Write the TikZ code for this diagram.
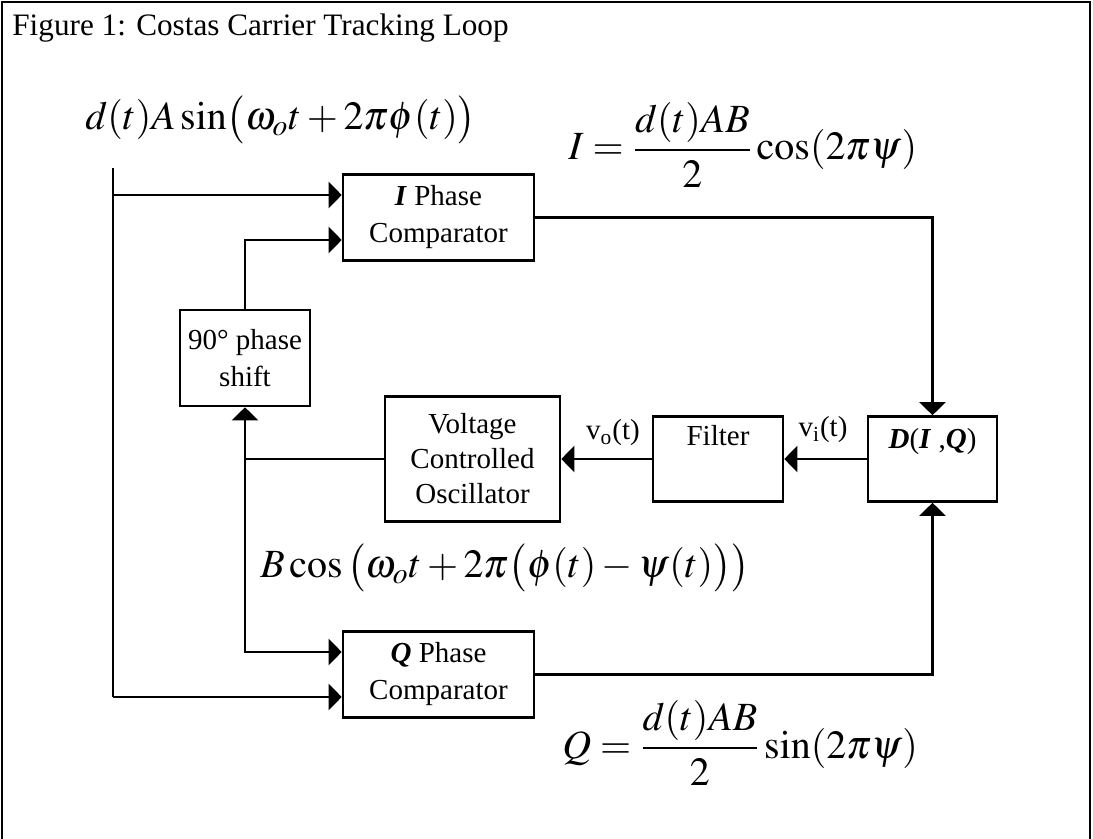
\documentclass[tikz,border=0pt]{standalone}
\usepackage{mathptmx}
\usepackage[no-math]{fontspec}
\setmainfont{Liberation Serif}
\usetikzlibrary{arrows.meta,positioning}

\begin{document}
\begin{tikzpicture}[
    x=0.5pt, y=-0.5pt,
    >={Triangle[length=6.5pt,width=13pt]},
    font=\fontsize{14.5}{18.5}\selectfont,
    % boxes and lines
    block/.style={draw=black, line width=1.3pt, rectangle, align=center, inner sep=2pt},
    sig/.style={->, line width=1.2pt},
    wire/.style={line width=1.2pt},
    formula/.style={inner sep=0pt, anchor=base west, font=\fontsize{20}{24}\selectfont}
  ]
  \useasboundingbox (0,0) rectangle (1093,839);

  % frame and caption
  \draw[line width=1.3pt] (2,839) -- (2,2) -- (1090,2) -- (1090,839);
  \node[anchor=base west, inner sep=0pt, font=\fontsize{15.6}{18}\selectfont] (title) at (12,36) {Figure 1: Costas Carrier Tracking Loop};

  % blocks
  \node[block, minimum width=95.5pt, minimum height=43pt] (icomp) at (438.5,217.5) {\textbf{\textit{I}} Phase\\Comparator};
  \node[block, minimum width=95.5pt, minimum height=43pt] (qcomp) at (438.5,674.5) {\textbf{\textit{Q}} Phase\\Comparator};
  \node[block, minimum width=65pt, minimum height=48pt] (shift) at (245,358) {90° phase\\shift};
  \node[block, minimum width=87.5pt, minimum height=62.5pt, font=\fontsize{14.5}{17.5}\selectfont] (vco) at (472.5,459) {Voltage\\Controlled\\Oscillator};
  \node[block, minimum width=65pt, minimum height=42.5pt] (filter) at (718,459) {Filter\\\strut};
  \node[block, minimum width=64.5pt, minimum height=42.5pt, font=\fontsize{14.5}{16}\selectfont] (dbox) at (932.5,459) {\textbf{\textit{D}}(\textbf{\textit{I}} ,\textbf{\textit{Q}})\\\strut};

  % signal labels
  \node (vo) at (613,433) {v\textsubscript{o}(t)};
  \node (vi) at (823,430) {v\textsubscript{i}(t)};

  % formulas
  \node[formula] (eqin) at (85,130) {$d(t)A\sin\bigl(\omega_o t+2\pi\phi(t)\bigr)$};
  \node[formula] (eqi) at (568,160) {$\displaystyle I=\frac{d(t)AB}{2}\cos(2\pi\psi)$};
  \node[formula] (eqb) at (260,578) {$B\cos\,\bigl(\omega_o t+2\pi\bigl(\phi(t)-\psi(t)\bigr)\bigr)$};
  \node[formula] (eqq) at (562,758) {$\displaystyle Q=\frac{d(t)AB}{2}\sin(2\pi\psi)$};

  % input line
  \coordinate (intop) at (113,168);
  \coordinate (inbot) at (113,697);
  \coordinate (itap) at (113,195);
  \draw[wire] (intop) -- (inbot);
  \draw[sig] (itap) -- ([yshift=11.25pt]icomp.west);
  \draw[sig] (inbot) -- ([yshift=-11.25pt]qcomp.west);

  % local oscillator paths
  \draw[sig] (shift.north) |- ([yshift=-11.25pt]icomp.west);
  \draw[sig, <->] (shift.south) |- ([yshift=11.25pt]qcomp.west);
  \draw[wire] (vco.west) -- (vco.west -| shift.south);

  % loop
  \draw[sig] (filter.west) -- (vco.east);
  \draw[sig] (dbox.west) -- (filter.east);
  \draw[sig] (icomp.east) -| (dbox.north);
  \draw[sig] (qcomp.east) -| (dbox.south);
\end{tikzpicture}
\end{document}
